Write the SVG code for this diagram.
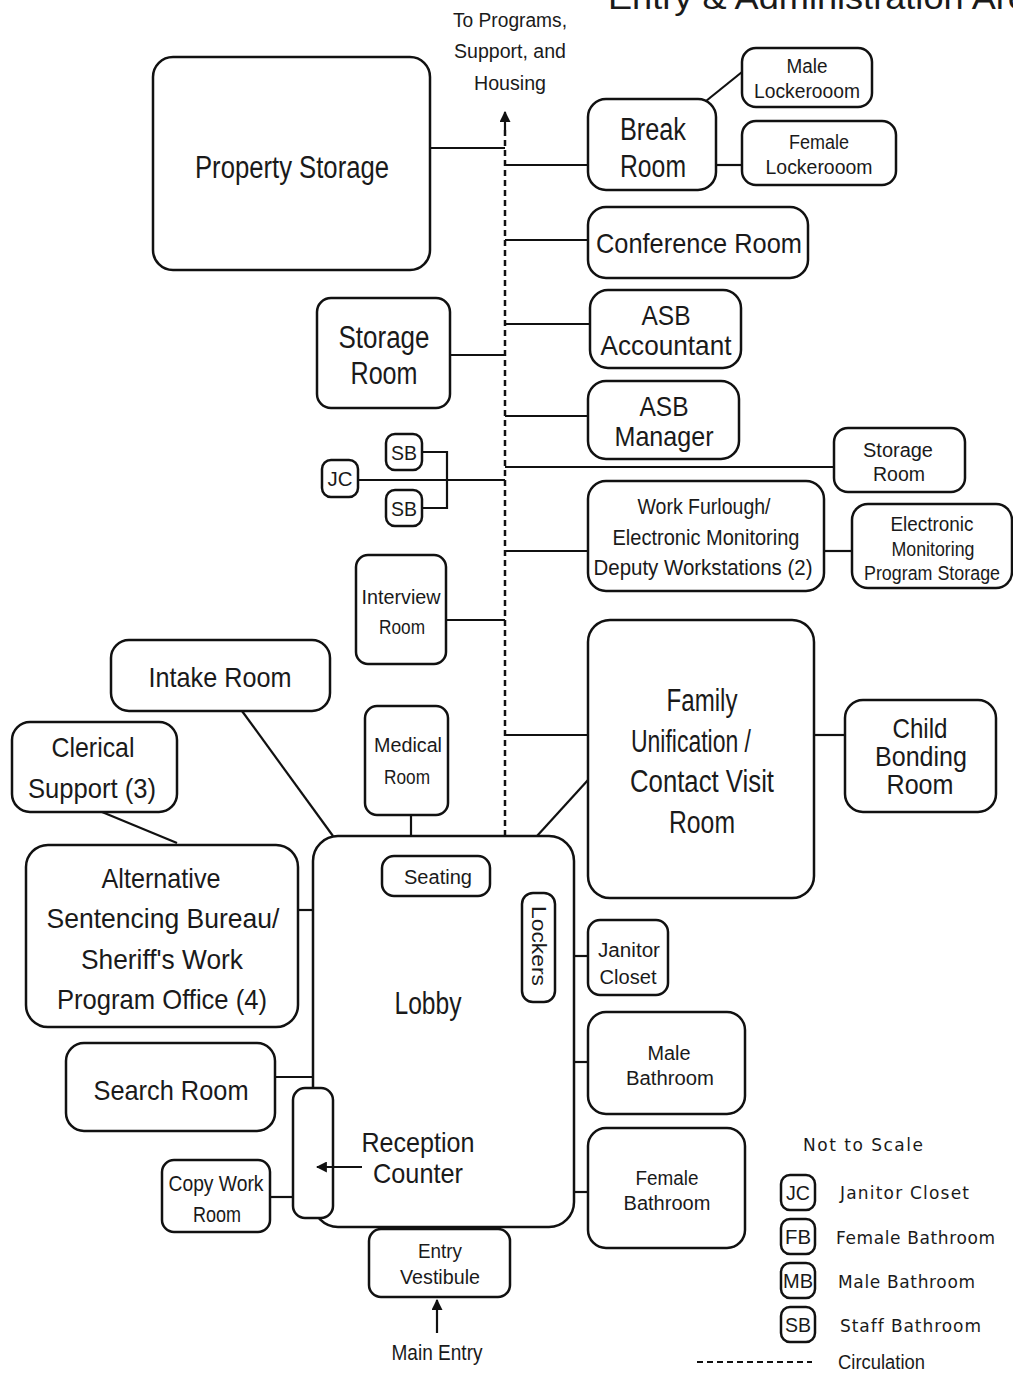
<svg xmlns="http://www.w3.org/2000/svg" width="1013" height="1376" viewBox="0 0 1013 1376">
<style>
.b{fill:#fff;stroke:#111;stroke-width:2.5}
.c{fill:none;stroke:#111;stroke-width:2.2}
.d{fill:none;stroke:#111;stroke-width:2.5;stroke-dasharray:6 4}
text{font-family:"Liberation Sans",Arial,sans-serif;fill:#1a1a1a;text-anchor:middle}
.t30{font-size:31px}
.t28{font-size:28px}
.t22{font-size:22px}
.t20{font-size:20px}
.lg{font-family:"DejaVu Sans",sans-serif;font-size:17px;text-anchor:start;letter-spacing:1px}
.lb{font-size:21px}
</style>
<defs>
<marker id="ah" viewBox="0 0 10 10" refX="9" refY="5" markerWidth="4" markerHeight="4" orient="auto"><path d="M0,0 L10,5 L0,10 z" fill="#111"/></marker>
<marker id="ah2" viewBox="0 0 10 10" refX="9" refY="5" markerWidth="5" markerHeight="5" orient="auto"><path d="M0,0 L10,5 L0,10 z" fill="#111"/></marker>
</defs>
<rect width="1013" height="1376" fill="#fff"/>
<text x="608" y="9" style="font-size:34px;text-anchor:start" textLength="440" lengthAdjust="spacingAndGlyphs">Entry &amp; Administration Area</text>
<g id="circulation-label">
<text class="t20" x="510" y="27" textLength="114" lengthAdjust="spacingAndGlyphs">To Programs,</text>
<text class="t20" x="510" y="58" textLength="112" lengthAdjust="spacingAndGlyphs">Support, and</text>
<text class="t20" x="510" y="90" textLength="72" lengthAdjust="spacingAndGlyphs">Housing</text>
</g>
<g id="connectors">
<path class="d" d="M505,836 V128"/>
<path class="c" d="M505,130 V112" marker-end="url(#ah2)"/>
<path class="c" d="M430,148 H505"/>
<path class="c" d="M505,165 H588"/>
<path class="c" d="M706,101 L742,72"/>
<path class="c" d="M716,165 H742"/>
<path class="c" d="M505,240 H588"/>
<path class="c" d="M505,324 H590"/>
<path class="c" d="M450,355 H505"/>
<path class="c" d="M505,416 H588"/>
<path class="c" d="M505,467 H834"/>
<path class="c" d="M358,480 H505"/>
<path class="c" d="M422,452 H447 V508 H422"/>
<path class="c" d="M505,551 H588"/>
<path class="c" d="M824,551 H852"/>
<path class="c" d="M446,620 H505"/>
<path class="c" d="M505,735 H588"/>
<path class="c" d="M814,735 H845"/>
<path class="c" d="M537,836 L588,780"/>
<path class="c" d="M242,711 L333,836"/>
<path class="c" d="M411,815 V836"/>
<path class="c" d="M102,812 L177,843"/>
<path class="c" d="M298,910 H313"/>
<path class="c" d="M574,956 H588"/>
<path class="c" d="M574,1062 H588"/>
<path class="c" d="M574,1192 H588"/>
<path class="c" d="M275,1077 H313"/>
<path class="c" d="M270,1197 H293"/>
<path class="c" d="M437,1333 V1300" marker-end="url(#ah2)"/>
</g>
<g id="property-storage"><rect class="b" x="153" y="57" width="277" height="213" rx="20"/><text class="t30" x="292" y="178" textLength="194" lengthAdjust="spacingAndGlyphs">Property Storage</text></g>
<g id="break-room"><rect class="b" x="588" y="99" width="128" height="91" rx="18"/><text class="t30" x="653" y="140" textLength="66" lengthAdjust="spacingAndGlyphs">Break</text><text class="t30" x="653" y="177" textLength="66" lengthAdjust="spacingAndGlyphs">Room</text></g>
<g id="male-lockeroom"><rect class="b" x="742" y="48" width="130" height="59" rx="14"/><text class="t20" x="807" y="73" textLength="41" lengthAdjust="spacingAndGlyphs">Male</text><text class="t20" x="807" y="98" textLength="106" lengthAdjust="spacingAndGlyphs">Lockerooom</text></g>
<g id="female-lockeroom"><rect class="b" x="742" y="121" width="154" height="64" rx="14"/><text class="t20" x="819" y="149" textLength="60" lengthAdjust="spacingAndGlyphs">Female</text><text class="t20" x="819" y="174" textLength="107" lengthAdjust="spacingAndGlyphs">Lockerooom</text></g>
<g id="conference-room"><rect class="b" x="588" y="207" width="220" height="71" rx="18"/><text class="t28" x="699" y="253" textLength="206" lengthAdjust="spacingAndGlyphs">Conference Room</text></g>
<g id="asb-accountant"><rect class="b" x="590" y="290" width="151" height="78" rx="18"/><text class="t28" x="666" y="325" textLength="49" lengthAdjust="spacingAndGlyphs">ASB</text><text class="t28" x="666" y="355" textLength="131" lengthAdjust="spacingAndGlyphs">Accountant</text></g>
<g id="storage-room-left"><rect class="b" x="317" y="298" width="133" height="110" rx="14"/><text class="t30" x="384" y="348" textLength="91" lengthAdjust="spacingAndGlyphs">Storage</text><text class="t30" x="384" y="384" textLength="67" lengthAdjust="spacingAndGlyphs">Room</text></g>
<g id="asb-manager"><rect class="b" x="588" y="381" width="151" height="78" rx="18"/><text class="t28" x="664" y="416" textLength="49" lengthAdjust="spacingAndGlyphs">ASB</text><text class="t28" x="664" y="446" textLength="99" lengthAdjust="spacingAndGlyphs">Manager</text></g>
<g id="storage-room-right"><rect class="b" x="834" y="428" width="131" height="64" rx="14"/><text class="t20" x="898" y="457" textLength="70" lengthAdjust="spacingAndGlyphs">Storage</text><text class="t20" x="899" y="481" textLength="52" lengthAdjust="spacingAndGlyphs">Room</text></g>
<g id="jc"><rect class="b" x="322" y="460" width="36" height="37" rx="9"/><text class="lb" x="340" y="486" textLength="25" lengthAdjust="spacingAndGlyphs">JC</text></g>
<g id="sb-top"><rect class="b" x="386" y="434" width="36" height="36" rx="9"/><text class="lb" x="404" y="460" textLength="26" lengthAdjust="spacingAndGlyphs">SB</text></g>
<g id="sb-bottom"><rect class="b" x="386" y="490" width="36" height="36" rx="9"/><text class="lb" x="404" y="516" textLength="26" lengthAdjust="spacingAndGlyphs">SB</text></g>
<g id="work-furlough"><rect class="b" x="588" y="481" width="236" height="110" rx="18"/><text class="t22" x="704" y="514" textLength="133" lengthAdjust="spacingAndGlyphs">Work Furlough/</text><text class="t22" x="706" y="545" textLength="187" lengthAdjust="spacingAndGlyphs">Electronic Monitoring</text><text class="t22" x="703" y="575" textLength="219" lengthAdjust="spacingAndGlyphs">Deputy Workstations (2)</text></g>
<g id="em-storage"><rect class="b" x="852" y="504" width="160" height="84" rx="16"/><text class="t20" x="932" y="531" textLength="83" lengthAdjust="spacingAndGlyphs">Electronic</text><text class="t20" x="933" y="556" textLength="83" lengthAdjust="spacingAndGlyphs">Monitoring</text><text class="t20" x="932" y="580" textLength="136" lengthAdjust="spacingAndGlyphs">Program Storage</text></g>
<g id="interview-room"><rect class="b" x="356" y="555" width="90" height="109" rx="12"/><text class="t20" x="401" y="604" textLength="79" lengthAdjust="spacingAndGlyphs">Interview</text><text class="t20" x="402" y="634" textLength="46" lengthAdjust="spacingAndGlyphs">Room</text></g>
<g id="family-unification"><rect class="b" x="588" y="620" width="226" height="278" rx="22"/><text class="t30" x="702" y="711" textLength="71" lengthAdjust="spacingAndGlyphs">Family</text><text class="t30" x="691" y="752" textLength="120" lengthAdjust="spacingAndGlyphs">Unification /</text><text class="t30" x="702" y="792" textLength="144" lengthAdjust="spacingAndGlyphs">Contact Visit</text><text class="t30" x="702" y="833" textLength="66" lengthAdjust="spacingAndGlyphs">Room</text></g>
<g id="child-bonding"><rect class="b" x="845" y="700" width="151" height="112" rx="18"/><text class="t28" x="920" y="738" textLength="55" lengthAdjust="spacingAndGlyphs">Child</text><text class="t28" x="921" y="766" textLength="92" lengthAdjust="spacingAndGlyphs">Bonding</text><text class="t28" x="920" y="794" textLength="67" lengthAdjust="spacingAndGlyphs">Room</text></g>
<g id="intake-room"><rect class="b" x="111" y="640" width="219" height="71" rx="18"/><text class="t28" x="220" y="687" textLength="143" lengthAdjust="spacingAndGlyphs">Intake Room</text></g>
<g id="clerical-support"><rect class="b" x="12" y="722" width="165" height="90" rx="18"/><text class="t28" x="93" y="757" textLength="83" lengthAdjust="spacingAndGlyphs">Clerical</text><text class="t28" x="92" y="798" textLength="128" lengthAdjust="spacingAndGlyphs">Support (3)</text></g>
<g id="medical-room"><rect class="b" x="365" y="706" width="83" height="109" rx="12"/><text class="t20" x="408" y="752" textLength="68" lengthAdjust="spacingAndGlyphs">Medical</text><text class="t20" x="407" y="784" textLength="46" lengthAdjust="spacingAndGlyphs">Room</text></g>
<g id="lobby"><rect class="b" x="313" y="836" width="261" height="391" rx="25"/><text class="t30" x="428" y="1014" textLength="67" lengthAdjust="spacingAndGlyphs">Lobby</text></g>
<g id="seating"><rect class="b" x="382" y="856" width="108" height="40" rx="12"/><text class="t20" x="438" y="884" textLength="68" lengthAdjust="spacingAndGlyphs">Seating</text></g>
<g id="lockers"><rect class="b" x="522" y="893" width="33" height="109" rx="11"/><text class="t20" transform="translate(532,946) rotate(90)" x="0" y="0" textLength="80" lengthAdjust="spacingAndGlyphs">Lockers</text></g>
<g id="janitor-closet"><rect class="b" x="588" y="920" width="80" height="75" rx="12"/><text class="t20" x="629" y="957" textLength="62" lengthAdjust="spacingAndGlyphs">Janitor</text><text class="t20" x="628" y="984" textLength="57" lengthAdjust="spacingAndGlyphs">Closet</text></g>
<g id="male-bathroom"><rect class="b" x="588" y="1012" width="157" height="102" rx="18"/><text class="t20" x="669" y="1060" textLength="43" lengthAdjust="spacingAndGlyphs">Male</text><text class="t20" x="670" y="1085" textLength="88" lengthAdjust="spacingAndGlyphs">Bathroom</text></g>
<g id="female-bathroom"><rect class="b" x="588" y="1128" width="157" height="120" rx="18"/><text class="t20" x="667" y="1185" textLength="63" lengthAdjust="spacingAndGlyphs">Female</text><text class="t20" x="667" y="1210" textLength="87" lengthAdjust="spacingAndGlyphs">Bathroom</text></g>
<g id="asb-office"><rect class="b" x="26" y="845" width="272" height="182" rx="22"/><text class="t28" x="161" y="888" textLength="119" lengthAdjust="spacingAndGlyphs">Alternative</text><text class="t28" x="163" y="928" textLength="233" lengthAdjust="spacingAndGlyphs">Sentencing Bureau/</text><text class="t28" x="162" y="969" textLength="162" lengthAdjust="spacingAndGlyphs">Sheriff's Work</text><text class="t28" x="162" y="1009" textLength="210" lengthAdjust="spacingAndGlyphs">Program Office (4)</text></g>
<g id="search-room"><rect class="b" x="66" y="1043" width="209" height="88" rx="18"/><text class="t28" x="171" y="1100" textLength="155" lengthAdjust="spacingAndGlyphs">Search Room</text></g>
<g id="reception-counter"><rect class="b" x="293" y="1088" width="40" height="130" rx="12"/><path class="c" d="M362,1167 H317" marker-end="url(#ah2)"/><text class="t28" x="418" y="1152" textLength="113" lengthAdjust="spacingAndGlyphs">Reception</text><text class="t28" x="418" y="1183" textLength="90" lengthAdjust="spacingAndGlyphs">Counter</text></g>
<g id="copy-work-room"><rect class="b" x="162" y="1160" width="108" height="72" rx="12"/><text class="t22" x="216" y="1191" textLength="95" lengthAdjust="spacingAndGlyphs">Copy Work</text><text class="t22" x="217" y="1222" textLength="48" lengthAdjust="spacingAndGlyphs">Room</text></g>
<g id="entry-vestibule"><rect class="b" x="369" y="1229" width="141" height="68" rx="12"/><text class="t20" x="440" y="1258" textLength="44" lengthAdjust="spacingAndGlyphs">Entry</text><text class="t20" x="440" y="1284" textLength="80" lengthAdjust="spacingAndGlyphs">Vestibule</text></g>
<g id="main-entry"><text class="t22" x="437" y="1360" textLength="91" lengthAdjust="spacingAndGlyphs">Main Entry</text></g>
<g id="legend">
<text class="lg" x="803" y="1151" textLength="121">Not to Scale</text>
<rect class="b" x="781" y="1175" width="34" height="35" rx="9"/><text class="lb" x="798" y="1200" textLength="24" lengthAdjust="spacingAndGlyphs">JC</text><text class="lg" x="840" y="1199" textLength="130">Janitor Closet</text>
<rect class="b" x="781" y="1219" width="34" height="35" rx="9"/><text class="lb" x="798" y="1244" textLength="26" lengthAdjust="spacingAndGlyphs">FB</text><text class="lg" x="836" y="1244" textLength="160">Female Bathroom</text>
<rect class="b" x="781" y="1263" width="34" height="35" rx="9"/><text class="lb" x="798" y="1288" textLength="30" lengthAdjust="spacingAndGlyphs">MB</text><text class="lg" x="838" y="1288" textLength="138">Male Bathroom</text>
<rect class="b" x="781" y="1307" width="34" height="35" rx="9"/><text class="lb" x="798" y="1332" textLength="26" lengthAdjust="spacingAndGlyphs">SB</text><text class="lg" x="840" y="1332" textLength="142">Staff Bathroom</text>
<path class="d" d="M697,1362 H812" style="stroke-width:2"/>
<text class="t20" x="838" y="1369" style="text-anchor:start" textLength="87" lengthAdjust="spacingAndGlyphs">Circulation</text>
</g>
</svg>
